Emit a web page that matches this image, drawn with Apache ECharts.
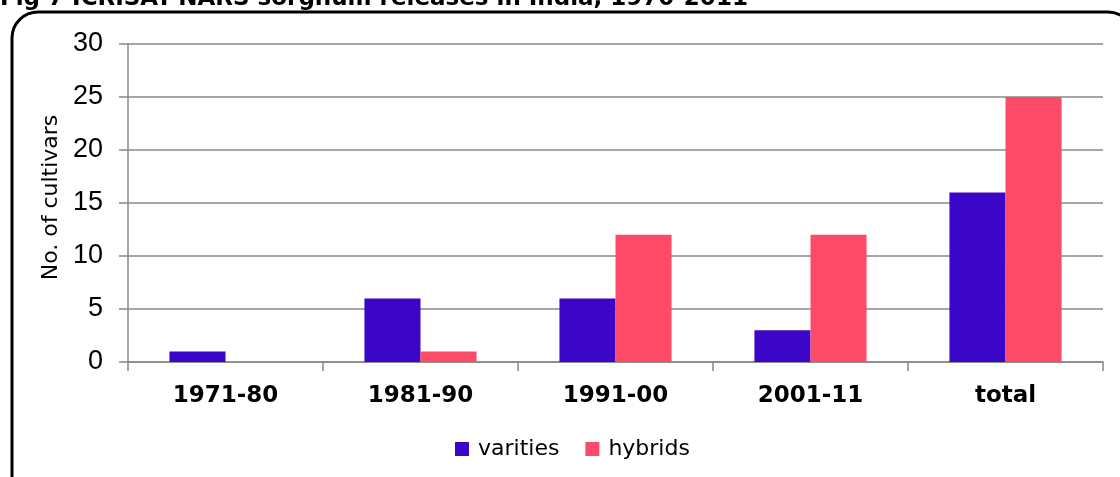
<!DOCTYPE html>
<html><head><meta charset="utf-8">
<script src="https://cdn.jsdelivr.net/npm/echarts@6/dist/echarts.min.js"></script>
<style>html,body{margin:0;padding:0;background:#fff}#c{width:1120px;height:477px}</style>
</head><body><div id="c"></div>
<script>
const categories = ['1971-80', '1981-90', '1991-00', '2001-11', 'total'];
const varieties = [1, 6, 6, 3, 16];
const hybrids = [0, 1, 12, 12, 25];
const seriesNames = ['varities', 'hybrids'];
const titleText = 'Fig 7 ICRISAT-NARS sorghum releases in India, 1970-2011';

const SANS = '"Liberation Sans", Arial, sans-serif';
const DV = '"DejaVu Sans", Verdana, sans-serif';
const chart = echarts.init(document.getElementById('c'), null, {renderer: 'canvas'});
chart.setOption({
  animation: false,
  backgroundColor: '#fff',
  graphic: [
    {type: 'text', left: 0, top: -12, style: {text: titleText, font: 'bold 23px ' + DV, fill: '#000'}},
    {type: 'rect', shape: {x: 12, y: 12, width: 1122, height: 500, r: 26}, style: {fill: 'none', stroke: '#000', lineWidth: 3}, z: 10}
  ],
  grid: {left: 128, right: 17, top: 44, bottom: 115, containLabel: false},
  legend: {
    data: seriesNames, top: 438, left: 455, padding: 0, itemWidth: 14, itemHeight: 14, itemGap: 26,
    icon: 'rect', textStyle: {fontSize: 22, fontFamily: DV, color: '#000', padding: [0, 0, 0, 4]}
  },
  xAxis: {
    type: 'category', data: categories,
    axisLine: {lineStyle: {color: '#888', width: 1.5}},
    axisTick: {show: true, length: 9, lineStyle: {color: '#888', width: 1.5}, alignWithLabel: false},
    axisLabel: {fontSize: 23, fontWeight: 'bold', fontFamily: DV, color: '#000', margin: 23}
  },
  yAxis: {
    type: 'value', min: 0, max: 30, interval: 5,
    name: 'No. of cultivars', nameLocation: 'middle', nameGap: 66, nameRotate: 90,
    nameTextStyle: {fontSize: 22, fontFamily: DV, color: '#000', padding: [0, 0, 0, 11]},
    axisLine: {show: true, lineStyle: {color: '#888', width: 1.5}},
    axisTick: {show: true, length: 9, lineStyle: {color: '#888', width: 1.5}},
    splitLine: {lineStyle: {color: '#888', width: 1.5}},
    axisLabel: {fontSize: 27, fontFamily: SANS, color: '#000', margin: 25}
  },
  series: [
    {name: seriesNames[0], type: 'bar', data: varieties, barGap: '0%', barCategoryGap: '42.5%', itemStyle: {color: '#3C06C8'}},
    {name: seriesNames[1], type: 'bar', data: hybrids, barGap: '0%', barCategoryGap: '42.5%', itemStyle: {color: '#FD4A69'}}
  ]
});
</script></body></html>
